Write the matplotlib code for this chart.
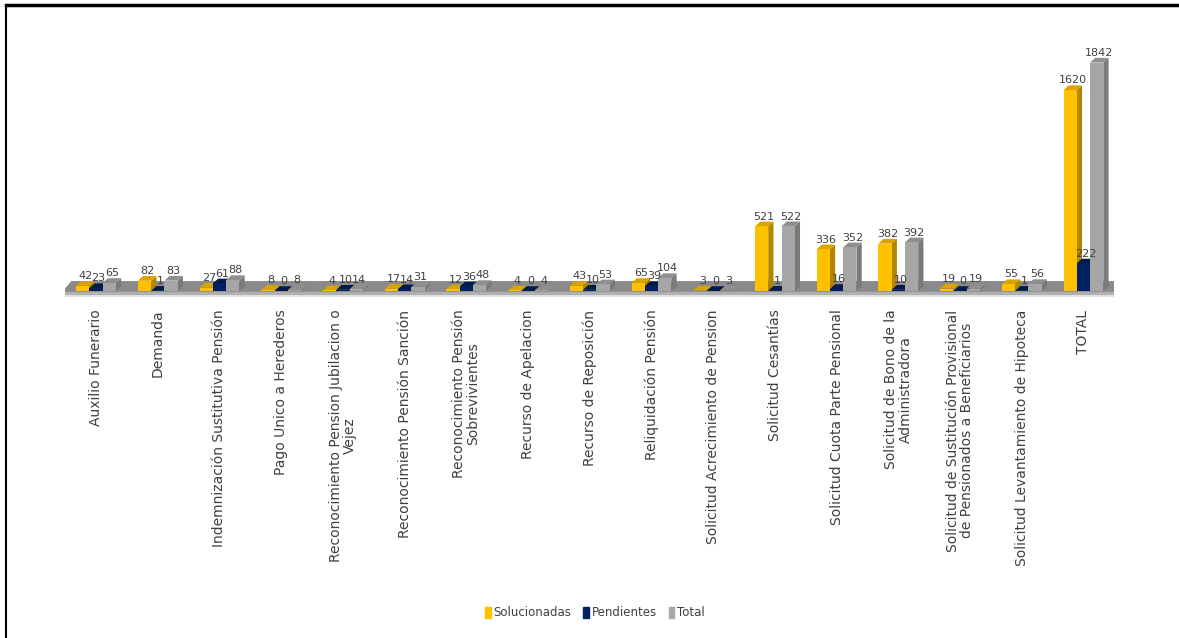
import matplotlib.pyplot as plt
from matplotlib.patches import Polygon, Rectangle
from matplotlib.lines import Line2D
import numpy as np

categorias = [
    'Auxilio Funerario',
    'Demanda',
    'Indemnización Sustitutiva Pensión',
    'Pago Unico a Herederos',
    'Reconocimiento Pension Jubilacion o\nVejez',
    'Reconocimiento Pensión Sanción',
    'Reconocimiento Pensión\nSobrevivientes',
    'Recurso de Apelacion',
    'Recurso de Reposición',
    'Reliquidación Pensión',
    'Solicitud Acrecimiento de Pension',
    'Solicitud Cesantías',
    'Solicitud Cuota Parte Pensional',
    'Solicitud de Bono de la\nAdministradora',
    'Solicitud de Sustitución Provisional\nde Pensionados a Beneficiarios',
    'Solicitud Levantamiento de Hipoteca',
    'TOTAL',
]
solucionadas = [42, 82, 27, 8, 4, 17, 12, 4, 43, 65, 3, 521, 336, 382, 19, 55, 1620]
pendientes = [23, 1, 61, 0, 10, 14, 36, 0, 10, 39, 0, 1, 16, 10, 0, 1, 222]
total = [65, 83, 88, 8, 14, 31, 48, 4, 53, 104, 3, 522, 352, 392, 19, 56, 1842]

series = [
    ('Solucionadas', solucionadas, '#FFC000', '#D9A300', '#B38600'),
    ('Pendientes', pendientes, '#002060', '#001A4D', '#00143B'),
    ('Total', total, '#A6A6A6', '#8F8F8F', '#7A7A7A'),
]

fig = plt.figure(figsize=(11.79, 6.38), dpi=100)
ax = fig.add_axes([0.0553, 0.5323, 0.8898, 0.4003])
ax.set_xlim(-0.5, len(categorias) - 0.5)
ax.set_ylim(-60, 2000)

x = np.arange(len(categorias))
w = 0.215
dx = 0.085   # depth of the pseudo-3D faces along x
dy = 38      # depth of the pseudo-3D faces along y

# floor of the chart
n = len(categorias)
ax.add_patch(Polygon([(-0.4, 80), (n - 0.3, 80), (n - 0.45, -8), (-0.55, -8)],
                     closed=True, facecolor='#8a8a8a', edgecolor='none', zorder=1))
ax.add_patch(Polygon([(-0.55, -8), (n - 0.45, -8), (n - 0.45, -30), (-0.55, -30)],
                     closed=True, facecolor='#b0b0b0', edgecolor='none', zorder=1))
ax.add_patch(Polygon([(-0.55, -30), (n - 0.45, -30), (n - 0.45, -50), (-0.55, -50)],
                     closed=True, facecolor='#e0e0e0', edgecolor='none', zorder=1))

for k, (nombre, vals, c_front, c_top, c_side) in enumerate(series):
    xs = x + (k - 1) * w
    for xi, h in zip(xs, vals):
        x0, x1 = xi - w / 2, xi + w / 2
        ax.add_patch(Polygon([(x1, 0), (x1 + dx, dy), (x1 + dx, h + dy), (x1, h)],
                             closed=True, facecolor=c_side, edgecolor='none', zorder=2 + k))
        ax.add_patch(Polygon([(x0, h), (x0 + dx, h + dy), (x1 + dx, h + dy), (x1, h)],
                             closed=True, facecolor=c_top, edgecolor='none', zorder=2 + k))
        ax.text(xi + dx / 2, h + dy, str(h), ha='center', va='bottom', fontsize=8,
                color='#404040', zorder=10)
    ax.bar(xs, vals, width=w, color=c_front, label=nombre, zorder=2 + k)

ax.set_xticks(x)
ax.set_xticklabels(categorias, rotation=90, fontsize=10, color='#404040',
                   multialignment='center', linespacing=1.05)
ax.tick_params(axis='x', length=0, pad=8)
ax.set_yticks([])
for s in ax.spines.values():
    s.set_visible(False)

handles = [Rectangle((0, 0), 1, 1, color=c) for _, _, c, _, _ in series]
fig.legend(handles, [s[0] for s in series], loc='center', ncol=3,
           bbox_to_anchor=(595 / 1179, 1 - 613 / 638), frameon=False,
           fontsize=8.5, handlelength=0.45, handleheight=1.1, handletextpad=0.25,
           columnspacing=1.0, labelcolor='#404040')

# frame lines at the top and left edges
fig.add_artist(Line2D([0.005, 1.0], [1 - 5 / 638, 1 - 5 / 638], color='black', lw=2.5))
fig.add_artist(Line2D([0.005, 0.005], [0.0, 1 - 5 / 638], color='black', lw=1.5))

fig.savefig('out.png', dpi=100)
